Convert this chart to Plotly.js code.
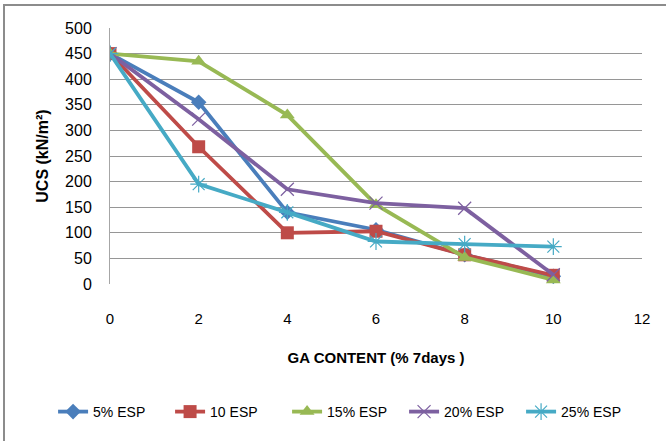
<!DOCTYPE html>
<html>
<head>
<meta charset="utf-8">
<script src="https://cdn.plot.ly/plotly-3.0.1.min.js"></script>
<style>
  html, body { margin: 0; padding: 0; background: #fff; }
  #frame { position: absolute; left: 3px; top: 4px; width: 680px; height: 460px;
           border: 2px solid #8c8c8c; box-sizing: border-box; pointer-events: none; z-index: 5; }
  #chart { width: 666px; height: 441px; }
</style>
</head>
<body>
<div id="frame"></div>
<div id="chart"></div>
<script>
// GA content (%) at 7 days
const gaContent = [0, 2, 4, 6, 8, 10];

// UCS (kN/m²) for each ESP dosage
const esp5  = [450, 355, 140, 106, 57, 15];
const esp10 = [450, 268, 100, 103, 57, 17];
const esp15 = [450, 435, 330, 155, 52, 8];
const esp20 = [450, 322, 185, 158, 148, 18];
const esp25 = [450, 195, 140, 83, 78, 73];

const seriesNames = ['5% ESP', '10 ESP', '15% ESP', '20% ESP', '25% ESP'];
const seriesData  = [esp5, esp10, esp15, esp20, esp25];
const colors  = ['#4A7EBB', '#BE4B48', '#98B954', '#7D60A0', '#46AAC5'];
const symbols = ['diamond', 'square', 'triangle-up', 'x-thin', 'asterisk'];
const sizes   = [12, 13, 13, 13, 14];

const traces = seriesData.map((ys, i) => ({
  x: gaContent,
  y: ys,
  name: seriesNames[i],
  type: 'scatter',
  mode: 'lines+markers',
  line: { color: colors[i], width: 3.8 },
  marker: {
    symbol: symbols[i],
    size: sizes[i],
    color: colors[i],
    line: { color: colors[i], width: (symbols[i] === 'x-thin' || symbols[i] === 'asterisk') ? 1.2 : 0 }
  }
}));

const font = "'Liberation Sans', Arial, sans-serif";

const layout = {
  width: 666,
  height: 441,
  margin: { l: 110, r: 24, t: 28, b: 157 },
  paper_bgcolor: '#ffffff',
  plot_bgcolor: '#ffffff',
  showlegend: true,
  font: { family: font, size: 14, color: '#000' },
  xaxis: {
    range: [0, 12],
    dtick: 2,
    tick0: 0,
    showgrid: false,
    zeroline: false,
    showline: false,
    ticks: '',
    tickfont: { family: font, size: 15, color: '#000' },
    ticklabelstandoff: 24,
    title: { text: '<b>GA CONTENT (% 7days )</b>', font: { family: font, size: 15, color: '#000' }, standoff: 26 }
  },
  yaxis: {
    range: [0, 500],
    dtick: 50,
    tick0: 0,
    showgrid: true,
    gridcolor: '#969696',
    gridwidth: 1,
    zeroline: false,
    showline: true,
    linecolor: '#a6a6a6',
    linewidth: 1,
    ticks: '',
    tickfont: { family: font, size: 16, color: '#000' },
    ticklabelstandoff: 14,
    title: { text: '<b>UCS (kN/m²)</b>', font: { family: font, size: 16, color: '#000' }, standoff: 12 }
  },
  legend: {
    orientation: 'h',
    x: -0.107,
    xanchor: 'left',
    y: -0.5,
    yanchor: 'middle',
    font: { family: font, size: 14, color: '#000' },
    itemwidth: 30,
    entrywidth: 72,
    tracegroupgap: 0
  }
};

Plotly.newPlot('chart', traces, layout, { displayModeBar: false, staticPlot: true });
</script>
</body>
</html>
